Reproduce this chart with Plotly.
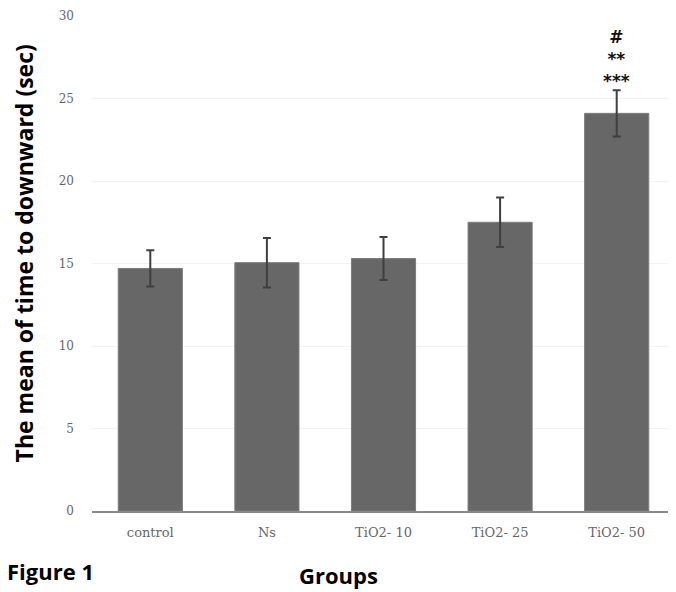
import plotly.graph_objects as go

categories = ["control", "Ns", "TiO2- 10", "TiO2- 25", "TiO2- 50"]
means = [14.7, 15.05, 15.3, 17.5, 24.1]
errors = [1.1, 1.5, 1.3, 1.5, 1.4]
y_ticks = [0, 5, 10, 15, 20, 25, 30]
sig_marks = ["#", "**", "***"]
sig_center_y = 27.4

fig = go.Figure()
fig.add_trace(go.Bar(
    x=categories, y=means,
    marker=dict(color="#676767", line=dict(color="#7c7c7c", width=1)),
    error_y=dict(type="data", array=errors, visible=True, color="#3f3f3f", thickness=2, width=4),
    width=0.55,
))

fig.add_annotation(x=categories[-1], y=sig_center_y, text="<b>" + "<br>".join(sig_marks) + "</b>",
                   showarrow=False, align="center",
                   font=dict(family="DejaVu Sans", size=17, color="#111"), yanchor="middle")

fig.add_annotation(xref="paper", yref="paper", x=-0.117, y=0.52,
                   text="<b>The mean of time to downward (sec)</b>", textangle=-90,
                   showarrow=False, font=dict(family="Open Sans", size=23, color="#000"),
                   xanchor="center", yanchor="middle")
fig.add_annotation(xref="paper", yref="paper", x=0.4225, y=-0.13,
                   text="<b>Groups</b>", showarrow=False,
                   font=dict(family="Open Sans", size=22, color="#000"),
                   xanchor="center", yanchor="middle")
fig.add_annotation(xref="paper", yref="paper", x=-0.15, y=-0.122,
                   text="<b>Figure 1</b>", showarrow=False,
                   font=dict(family="Open Sans", size=22, color="#000"),
                   xanchor="left", yanchor="middle")

fig.update_layout(
    width=668, height=584,
    margin=dict(l=84, r=1, t=8, b=81, autoexpand=False),
    plot_bgcolor="white", paper_bgcolor="white",
    showlegend=False,
    font=dict(family="DejaVu Serif", size=13, color="#666"),
    xaxis=dict(showline=True, linecolor="#8a8a8a", linewidth=2, ticks="",
               tickfont=dict(family="DejaVu Serif", size=13, color="#666"),
               showgrid=False, zeroline=False, automargin=False,
               ticklabelstandoff=8),
    yaxis=dict(range=[0, 30], tickvals=y_ticks, showline=False, ticks="",
               showgrid=True, gridcolor="#f3f3f3", zeroline=False, automargin=False,
               tickfont=dict(family="DejaVu Serif", size=12, color="#666"),
               ticklabelstandoff=17, ticklabeloverflow="allow"),
)

fig.write_html("out.html")
